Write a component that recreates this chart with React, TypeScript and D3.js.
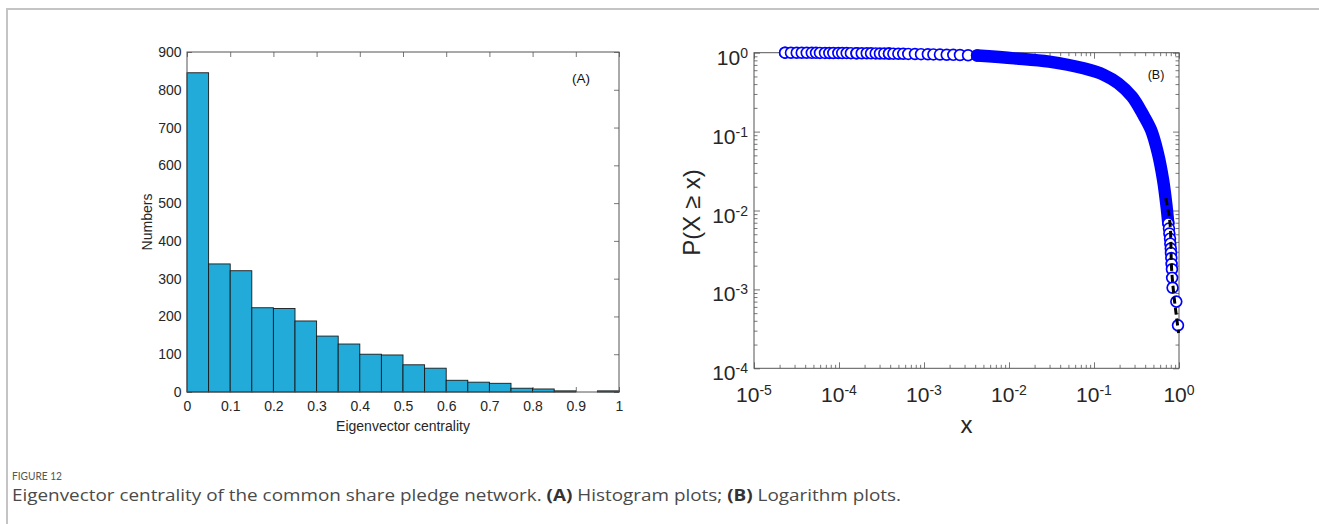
import React, { useEffect, useRef } from 'react'
import * as d3 from 'd3'

// (A) histogram of eigenvector centrality: left edge of each bin and its count
const binStarts = [0, 0.05, 0.1, 0.15, 0.2, 0.25, 0.3, 0.35, 0.4, 0.45, 0.5, 0.55, 0.6, 0.65, 0.7, 0.75, 0.8, 0.85, 0.9, 0.95]
const binCounts = [845, 339, 321, 223, 221, 188, 148, 127, 100, 98, 72, 63, 31, 26, 23, 10, 8, 3, 0, 3]
const binWidth = 0.05
const histXTicks = [0, 0.1, 0.2, 0.3, 0.4, 0.5, 0.6, 0.7, 0.8, 0.9, 1]
const histYTicks = [0, 100, 200, 300, 400, 500, 600, 700, 800, 900]

// (B) P(X >= x)
// separate markers at very small centrality values
const lowX = [2.32e-5, 2.32e-5, 2.72e-5, 3.18e-5, 3.64e-5, 4.17e-5, 4.78e-5, 5.36e-5, 5.97e-5, 6.84e-5, 7.69e-5, 8.57e-5,
  9.82e-5, 1.09e-4, 1.23e-4, 1.38e-4, 1.61e-4, 1.61e-4, 1.85e-4, 2.12e-4, 2.38e-4, 2.7e-4, 3.03e-4,
  3.41e-4, 3.87e-4, 3.87e-4, 4.36e-4, 4.99e-4, 5.7e-4, 6.53e-4, 7.83e-4, 9.22e-4, 1.11e-3, 1.29e-3,
  1.54e-3, 1.85e-3, 2.21e-3, 2.65e-3, 3.3e-3, 4.21e-3]
const lowP = [1.0, 1.0, 0.9995, 0.999, 0.998, 0.997, 0.996, 0.995, 0.994, 0.993, 0.992, 0.991,
  0.99, 0.989, 0.988, 0.987, 0.985, 0.985, 0.984, 0.983, 0.981, 0.98, 0.978,
  0.976, 0.974, 0.974, 0.972, 0.97, 0.968, 0.965, 0.962, 0.958, 0.955, 0.951,
  0.947, 0.943, 0.939, 0.934, 0.928, 0.921]
// dense part where the markers merge into one band
const bandX = [4.21e-3, 0.0116, 0.0297, 0.0755, 0.132, 0.193, 0.28, 0.371, 0.469, 0.565, 0.65, 0.714, 0.748]
const bandP = [0.921, 0.848, 0.769, 0.633, 0.521, 0.409, 0.277, 0.17, 0.105, 0.053, 0.0243, 0.0112, 0.0069]
// last markers in the tail
const tailX = [0.748, 0.762, 0.77, 0.784, 0.79, 0.8, 0.805, 0.812, 0.818, 0.826, 0.83, 0.84, 0.93, 0.973]
const tailP = [6.9e-3, 5.9e-3, 5.1e-3, 4.4e-3, 3.8e-3, 3.3e-3, 2.9e-3, 2.5e-3, 2.1e-3, 1.8e-3, 1.4e-3, 1.05e-3, 7.0e-4, 3.5e-4]
// dashed fit of the tail
const fitX = [0.698, 0.79, 0.82, 0.99]
const fitP = [0.0143, 6.2e-3, 1.76e-3, 2.8e-4]

const logXMajor = [1e-5, 1e-4, 1e-3, 1e-2, 1e-1, 1]
const logYMajor = [1e-4, 1e-3, 1e-2, 1e-1, 1]

const FONT = "'Liberation Sans', Arial, sans-serif"
const AXIS = '#555555'
const TEXT = '#262626'
const BAR = '#22abd9'
const BLUE = '#0000ff'

export default function App() {
  const svgRef = useRef<SVGSVGElement>(null)

  useEffect(() => {
    const svg = d3.select(svgRef.current)
    svg.selectAll('*').remove()

    // page frame (top and left rule)
    svg.append('path')
      .attr('d', 'M7,524V9H1319')
      .attr('fill', 'none')
      .attr('stroke', '#c4c4c4')
      .attr('stroke-width', 2)

    const styleAxis = (g: any, size: number) => {
      g.attr('font-family', FONT).attr('font-size', size)
      g.select('.domain').remove()
      g.selectAll('.tick line').attr('stroke', AXIS).attr('stroke-width', 0.8)
      g.selectAll('.tick text').attr('fill', TEXT)
    }

    // ---------- (A) histogram ----------
    const a = { l: 187, r: 619, t: 52, b: 392 }
    const x = d3.scaleLinear().domain([0, 1]).range([a.l, a.r])
    const y = d3.scaleLinear().domain([0, 900]).range([a.b, a.t])
    const gA = svg.append('g')

    gA.append('g').attr('transform', `translate(0,${a.b})`)
      .call(d3.axisBottom(x).tickValues(histXTicks).tickFormat((d: any) => String(d)).tickSizeInner(-5).tickSizeOuter(0).tickPadding(9.5))
      .call((g: any) => styleAxis(g, 14))
    gA.append('g').attr('transform', `translate(0,${a.t})`)
      .call(d3.axisTop(x).tickValues(histXTicks).tickFormat(() => '').tickSizeInner(-5).tickSizeOuter(0))
      .call((g: any) => styleAxis(g, 14))
    gA.append('g').attr('transform', `translate(${a.l},0)`)
      .call(d3.axisLeft(y).tickValues(histYTicks).tickSizeInner(-5).tickSizeOuter(0).tickPadding(5.5))
      .call((g: any) => styleAxis(g, 14))
    gA.append('g').attr('transform', `translate(${a.r},0)`)
      .call(d3.axisRight(y).tickValues(histYTicks).tickFormat(() => '').tickSizeInner(-5).tickSizeOuter(0))
      .call((g: any) => styleAxis(g, 14))

    gA.selectAll('rect.bar')
      .data(binStarts)
      .join('rect')
      .attr('class', 'bar')
      .attr('x', d => x(d))
      .attr('width', d => x(d + binWidth) - x(d))
      .attr('y', (d, i) => y(binCounts[i]))
      .attr('height', (d, i) => y(0) - y(binCounts[i]))
      .attr('fill', BAR)
      .attr('stroke', '#1a1a1a')
      .attr('stroke-width', 0.9)

    gA.append('rect')
      .attr('x', a.l).attr('y', a.t)
      .attr('width', a.r - a.l).attr('height', a.b - a.t)
      .attr('fill', 'none').attr('stroke', AXIS).attr('stroke-width', 1)

    gA.append('text')
      .attr('x', 581).attr('y', 83)
      .attr('text-anchor', 'middle')
      .attr('font-family', FONT).attr('font-size', 13.5)
      .attr('fill', '#111')
      .text('(A)')
    gA.append('text')
      .attr('transform', `translate(147,${(a.t + a.b) / 2}) rotate(-90)`)
      .attr('dy', '0.35em')
      .attr('text-anchor', 'middle')
      .attr('font-family', FONT).attr('font-size', 14)
      .attr('fill', TEXT)
      .text('Numbers')
    gA.append('text')
      .attr('x', (a.l + a.r) / 2).attr('y', 431)
      .attr('text-anchor', 'middle')
      .attr('font-family', FONT).attr('font-size', 14)
      .attr('fill', TEXT)
      .text('Eigenvector centrality')

    // ---------- (B) log-log CCDF ----------
    const b = { l: 754, r: 1179, t: 52.7, b: 368.3 }
    const xl = d3.scaleLog().domain([1e-5, 1]).range([b.l, b.r])
    const yl = d3.scaleLog().domain([1e-4, 1]).range([b.b, b.t])
    const isMajor = (v: number) => Math.abs(Math.log10(v) - Math.round(Math.log10(v))) < 1e-6
    const xMinor = xl.ticks().filter(v => !isMajor(v))
    const yMinor = yl.ticks().filter(v => !isMajor(v))
    const gB = svg.append('g')

    const tickSets: Array<[any, number[], number, string]> = [
      [d3.axisBottom(xl), logXMajor, 6, `translate(0,${b.b})`],
      [d3.axisBottom(xl), xMinor, 3.5, `translate(0,${b.b})`],
      [d3.axisTop(xl), logXMajor, 6, `translate(0,${b.t})`],
      [d3.axisTop(xl), xMinor, 3.5, `translate(0,${b.t})`],
      [d3.axisLeft(yl), logYMajor, 6, `translate(${b.l},0)`],
      [d3.axisLeft(yl), yMinor, 3.5, `translate(${b.l},0)`],
      [d3.axisRight(yl), logYMajor, 6, `translate(${b.r},0)`],
      [d3.axisRight(yl), yMinor, 3.5, `translate(${b.r},0)`]
    ]
    tickSets.forEach(([axis, vals, len, tr]) => {
      gB.append('g').attr('transform', tr)
        .call(axis.tickValues(vals).tickFormat(() => '').tickSizeInner(-len).tickSizeOuter(0))
        .call((g: any) => styleAxis(g, 10))
    })
    gB.append('rect')
      .attr('x', b.l).attr('y', b.t)
      .attr('width', b.r - b.l).attr('height', b.b - b.t)
      .attr('fill', 'none').attr('stroke', AXIS).attr('stroke-width', 1)

    const powLabel = (sel: any, v: number) => {
      const e = Math.round(Math.log10(v))
      sel.append('tspan').text('10')
      sel.append('tspan').attr('dy', '-0.5em').attr('font-size', 14).text(String(e))
    }
    logXMajor.forEach(v => {
      const t = gB.append('text')
        .attr('x', xl(v)).attr('y', 402)
        .attr('text-anchor', 'middle')
        .attr('font-family', FONT).attr('font-size', 21)
        .attr('fill', TEXT)
      powLabel(t, v)
    })
    logYMajor.forEach(v => {
      const t = gB.append('text')
        .attr('x', b.l - 6).attr('y', yl(v) + 12)
        .attr('text-anchor', 'end')
        .attr('font-family', FONT).attr('font-size', 21)
        .attr('fill', TEXT)
      powLabel(t, v)
    })

    // markers: small values first, later ones drawn on top
    const marker = (xs: number[], ps: number[]) => {
      gB.append('g').selectAll('circle')
        .data(xs)
        .join('circle')
        .attr('cx', d => xl(d))
        .attr('cy', (d, i) => yl(ps[i]))
        .attr('r', 5.4)
        .attr('fill', '#fff')
        .attr('stroke', BLUE)
        .attr('stroke-width', 1.7)
    }
    marker(lowX, lowP)

    const band = d3.line<number>()
      .x(d => xl(d))
      .y((d, i) => yl(bandP[i]))
      .curve(d3.curveCatmullRom)
    gB.append('path')
      .attr('d', band(bandX))
      .attr('fill', 'none')
      .attr('stroke', BLUE)
      .attr('stroke-width', 12.4)
      .attr('stroke-linecap', 'round')
      .attr('stroke-linejoin', 'round')

    marker(tailX, tailP)

    const fit = d3.line<number>()
      .x(d => xl(d))
      .y((d, i) => yl(fitP[i]))
      .curve(d3.curveMonotoneY)
    gB.append('path')
      .attr('d', fit(fitX))
      .attr('fill', 'none')
      .attr('stroke', '#000')
      .attr('stroke-width', 3)
      .attr('stroke-dasharray', '7,4')

    gB.append('text')
      .attr('x', 1156).attr('y', 79)
      .attr('text-anchor', 'middle')
      .attr('font-family', FONT).attr('font-size', 12.5)
      .attr('fill', '#111')
      .text('(B)')
    gB.append('text')
      .attr('transform', `translate(692,${(b.t + b.b) / 2 + 2}) rotate(-90)`)
      .attr('dy', '0.35em')
      .attr('text-anchor', 'middle')
      .attr('font-family', FONT).attr('font-size', 24)
      .attr('fill', TEXT)
      .text('P(X \u2265 x)')
    gB.append('text')
      .attr('x', (b.l + b.r) / 2).attr('y', 433)
      .attr('text-anchor', 'middle')
      .attr('font-family', FONT).attr('font-size', 24)
      .attr('fill', TEXT)
      .text('x')

    // ---------- caption ----------
    svg.append('text')
      .attr('x', 12).attr('y', 479.5)
      .attr('font-family', 'Lato, sans-serif').attr('font-size', 12)
      .attr('fill', '#555')
      .attr('textLength', 50)
      .attr('lengthAdjust', 'spacingAndGlyphs')
      .text('FIGURE 12')
    const cap = svg.append('text')
      .attr('x', 12).attr('y', 500.5)
      .attr('font-family', "'Open Sans', sans-serif").attr('font-size', 16.5)
      .attr('fill', '#4a4a4a')
      .attr('textLength', 889)
      .attr('lengthAdjust', 'spacingAndGlyphs')
    cap.append('tspan').text('Eigenvector centrality of the common share pledge network. ')
    cap.append('tspan').attr('font-weight', 'bold').attr('fill', '#333').text('(A)')
    cap.append('tspan').text(' Histogram plots; ')
    cap.append('tspan').attr('font-weight', 'bold').attr('fill', '#333').text('(B)')
    cap.append('tspan').text(' Logarithm plots.')
  }, [])

  return (
    <svg
      ref={svgRef}
      width={1319}
      height={524}
      style={{ position: 'absolute', left: 0, top: 0, background: '#fff' }}
    />
  )
}
